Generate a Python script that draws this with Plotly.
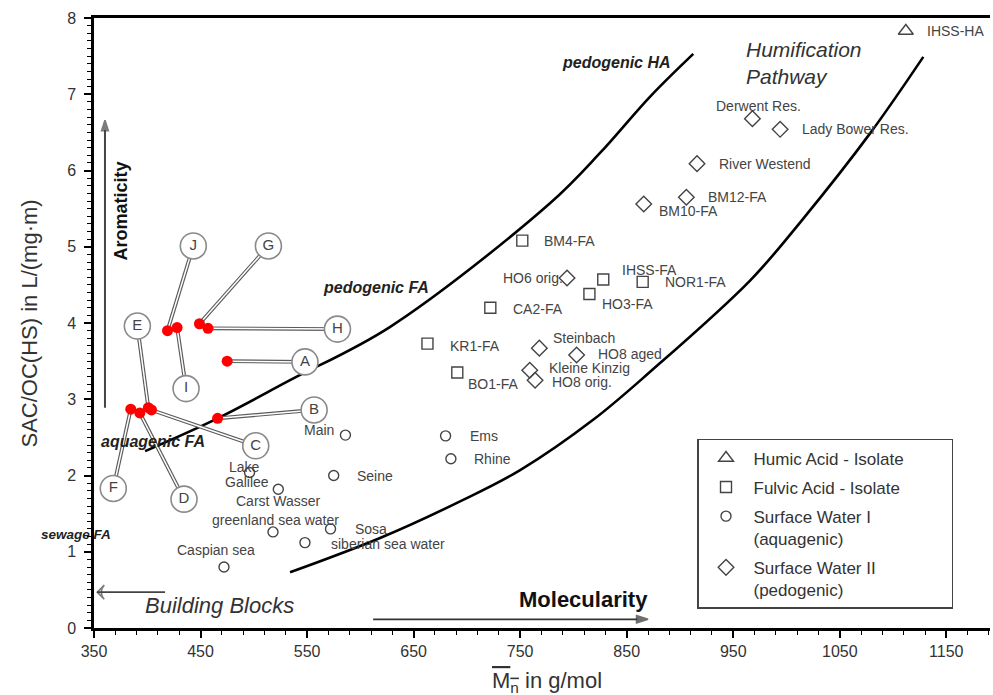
import plotly.graph_objects as go

# ---------------- data ----------------
ha_names = ["IHSS-HA"]
ha_x = [1112]
ha_y = [7.83]

fa_names = ["BM4-FA", "IHSS-FA", "NOR1-FA", "HO3-FA", "CA2-FA", "KR1-FA", "BO1-FA"]
fa_x = [752, 828, 865, 815, 722, 663, 691]
fa_y = [5.08, 4.57, 4.54, 4.38, 4.20, 3.73, 3.35]

sw1_names = ["Ems", "Rhine", "Main", "Lake<br>Galilee", "Seine", "Carst Wasser",
             "greenland sea water", "Sosa", "siberian sea water", "Caspian sea"]
sw1_x = [680, 685, 586, 496, 575, 523, 518, 572, 548, 472]
sw1_y = [2.52, 2.22, 2.53, 2.04, 2.00, 1.82, 1.26, 1.30, 1.12, 0.80]

sw2_names = ["Derwent Res.", "Lady Bower Res.", "River Westend", "BM12-FA", "BM10-FA",
             "HO6 orig.", "Steinbach", "HO8 aged", "Kleine Kinzig", "HO8 orig."]
sw2_x = [968, 994, 916, 906, 866, 794, 768, 803, 759, 764]
sw2_y = [6.68, 6.54, 6.09, 5.65, 5.56, 4.59, 3.67, 3.58, 3.38, 3.25]

sample_ids = ["A", "B", "C", "D", "E", "F", "G", "H", "I", "J"]
sample_x = [475, 466, 404, 393, 401, 384.5, 449, 457, 428, 419]
sample_y = [3.50, 2.75, 2.86, 2.82, 2.89, 2.87, 3.99, 3.93, 3.94, 3.90]

# boundary curves
pedo_x = [398, 466, 534, 628, 778, 825, 872, 912.5]
pedo_y = [2.32, 2.75, 3.25, 3.95, 5.57, 6.23, 6.97, 7.53]
aqua_x = [534, 618.5, 696.5, 750, 818.5, 872, 966, 1014.6, 1078.6, 1128.4]
aqua_y = [0.73, 1.18, 1.68, 2.07, 2.73, 3.36, 4.56, 5.35, 6.49, 7.49]

x_ticks = [350, 450, 550, 650, 750, 850, 950, 1050, 1150]
y_ticks = [0, 1, 2, 3, 4, 5, 6, 7, 8]

# ---------------- layout helpers (positions / styles) ----------------
callout_pos = {  # letter bubble positions in data units
    "A": (548, 3.49), "B": (556.6, 2.86), "C": (501.8, 2.39), "D": (434.5, 1.69),
    "E": (390.7, 3.96), "F": (368.1, 1.83), "G": (513.7, 5.01), "H": (578.5, 3.92),
    "I": (436.4, 3.14), "J": (443.2, 5.01),
}
label_off = {  # per text line: xshift, yshift (px), xanchor
    "IHSS-HA": [(19, 0, "left")], "BM4-FA": [(20, 0, "left")], "IHSS-FA": [(17, 10, "left")],
    "NOR1-FA": [(20, 0, "left")], "HO3-FA": [(11, -10, "left")], "CA2-FA": [(21, -1, "left")],
    "KR1-FA": [(21, -2, "left")], "BO1-FA": [(9, -11, "left")],
    "Ems": [(22, 0, "left")], "Rhine": [(21, 0, "left")], "Main": [(-9, 5, "right")],
    "Lake<br>Galilee": [(-5, 5, "center"), (-3, -10, "center")], "Seine": [(21, 0, "left")],
    "Carst Wasser": [(0, -12, "center")], "greenland sea water": [(3, 12, "center")],
    "Sosa": [(22, 0, "left")], "siberian sea water": [(24, -1, "left")],
    "Caspian sea": [(-8, 17, "center")],
    "Derwent Res.": [(6, 13, "center")], "Lady Bower Res.": [(20, 0, "left")],
    "River Westend": [(20, 0, "left")], "BM12-FA": [(20, 0, "left")],
    "BM10-FA": [(13, -7, "left")], "HO6 orig.": [(-2, 0, "right")],
    "Steinbach": [(12, 10, "left")], "HO8 aged": [(19, 1, "left")],
    "Kleine Kinzig": [(17, 2, "left")], "HO8 orig.": [(15, -2, "left")],
}

FONT = "Liberation Sans, Arial, sans-serif"
MK = "#444444"

fig = go.Figure()

# boundary curves
for cx, cy in [(pedo_x, pedo_y), (aqua_x, aqua_y)]:
    fig.add_trace(go.Scatter(x=cx, y=cy, mode="lines", showlegend=False, hoverinfo="skip",
                             line=dict(color="black", width=2.6, shape="spline", smoothing=1)))

# leader lines (double line look)
lx, ly = [], []
for sid, sx, sy in zip(sample_ids, sample_x, sample_y):
    px, py = callout_pos[sid]
    lx += [sx, px, None]
    ly += [sy, py, None]
fig.add_trace(go.Scatter(x=lx, y=ly, mode="lines", showlegend=False, hoverinfo="skip",
                         line=dict(color="#5a5a5a", width=3.8)))
fig.add_trace(go.Scatter(x=lx, y=ly, mode="lines", showlegend=False, hoverinfo="skip",
                         line=dict(color="white", width=1.5)))

# letter bubbles
fig.add_trace(go.Scatter(
    x=[callout_pos[s][0] for s in sample_ids], y=[callout_pos[s][1] for s in sample_ids],
    mode="markers+text", text=sample_ids, textposition="middle center",
    textfont=dict(family=FONT, size=15, color="#444444"),
    marker=dict(symbol="circle", size=26, color="white", line=dict(color="#8a8a8a", width=1.6)),
    showlegend=False, hoverinfo="skip"))

# red samples
fig.add_trace(go.Scatter(x=sample_x, y=sample_y, mode="markers", showlegend=False,
                         marker=dict(symbol="circle", size=11, color="#ff0000"),
                         hoverinfo="skip"))

# direction arrows (line + arrow marker at the head)
arrows = [
    ([360.3, 360.3], [2.89, 6.66], "arrow", 11, "#444444", 2.0),      # Aromaticity
    ([416.7, 353.0], [0.47, 0.47], "arrow-wide-open", 10, "#444444", 1.6),  # Building Blocks
    ([612, 870], [0.114, 0.114], "arrow", 12, "#333333", 1.8),       # Molecularity
]
for ax_, ay_, sym, sz, col, w in arrows:
    fig.add_trace(go.Scatter(x=ax_, y=ay_, mode="lines+markers", showlegend=False, hoverinfo="skip",
                             line=dict(color=col, width=w),
                             marker=dict(symbol=["circle", sym], size=[0, sz], angleref="previous",
                                         color=col, line=dict(color=col, width=1.6))))

# data series
pad = "\u00a0" * 9
series = [
    ("Humic Acid - Isolate" + pad, ha_x, ha_y, "triangle-up-open", 13),
    ("Fulvic Acid - Isolate", fa_x, fa_y, "square-open", 11),
    ("Surface Water I<br>(aquagenic)", sw1_x, sw1_y, "circle-open", 10),
    ("Surface Water II<br>(pedogenic)", sw2_x, sw2_y, "diamond-open", 12),
]
for i, (name, sx, sy, sym, sz) in enumerate(series):
    fig.add_trace(go.Scatter(x=sx, y=sy, mode="markers", name=name, legendgroup=str(i),
                             marker=dict(symbol=sym, size=sz, color=MK, line=dict(width=1.4, color=MK))))

annotations = []
for names, xs, ys in [(ha_names, ha_x, ha_y), (fa_names, fa_x, fa_y),
                      (sw1_names, sw1_x, sw1_y), (sw2_names, sw2_x, sw2_y)]:
    for n, x, y in zip(names, xs, ys):
        for line_txt, (dx, dy, anc) in zip(n.split("<br>"), label_off[n]):
            annotations.append(dict(x=x, y=y, xref="x", yref="y", text=line_txt, showarrow=False,
                                    xanchor=anc, yanchor="middle", xshift=dx, yshift=dy,
                                    font=dict(family=FONT, size=14, color="#444444")))

def txt(text, x, y, size, xanchor="left", xref="x", yref="y", angle=0, color="#222222"):
    annotations.append(dict(x=x, y=y, xref=xref, yref=yref, text=text, showarrow=False,
                            xanchor=xanchor, yanchor="middle", textangle=angle, align="left",
                            font=dict(family=FONT, size=size, color=color)))

txt("<b><i>pedogenic HA</i></b>", 893, 7.41, 16, xanchor="right")
txt("<b><i>pedogenic FA</i></b>", 563, 4.47, 16)
txt("<b><i>aquagenic FA</i></b>", 355, 2.44, 16)
txt("<b><i>sewage FA</i></b>", -0.061, 1.23, 13.5, xref="paper")
txt("<i>Humification<br>Pathway</i>", 960, 7.41, 21, color="#333333")
txt("<i>Building Blocks</i>", 468, 0.30, 22, xanchor="center", color="#333333")
txt("<b>Molecularity</b>", 809, 0.37, 22, xanchor="center", color="#111111")
txt("<b>Aromaticity</b>", 375, 5.47, 18, xanchor="center", angle=-90, color="#111111")
txt("SAC/OC(HS) in L/(mg·m)", -0.072, 0.5, 22, xanchor="center", xref="paper", yref="paper",
    angle=-90, color="#333333")
txt('<span style="text-decoration:overline">M<sub>n</sub></span> in g/mol', 0.506, -0.089, 22,
    xanchor="center", xref="paper", yref="paper", color="#333333")

fig.update_layout(
    width=993, height=695,
    margin=dict(l=94, r=3, t=18, b=67),
    paper_bgcolor="white", plot_bgcolor="white",
    font=dict(family=FONT, color="#333333"),
    annotations=annotations,
    showlegend=True,
    legend=dict(x=0.673, y=0.31, xanchor="left", yanchor="top",
                bordercolor="#444444", borderwidth=1.5, bgcolor="white",
                font=dict(family=FONT, size=17, color="#333333"),
                valign="top", itemwidth=45, tracegroupgap=4),
)
fig.update_xaxes(range=[350, 1191], tickmode="array", tickvals=x_ticks,
                 ticktext=[str(v) for v in x_ticks],
                 ticks="outside", ticklen=7, tickwidth=1.5, tickcolor="black",
                 showline=True, linewidth=2.5, linecolor="black", mirror=True,
                 showgrid=False, zeroline=False,
                 tickfont=dict(family=FONT, size=16, color="#333333"),
                 minor=dict(tick0=350, dtick=20, ticks="outside", ticklen=4, tickwidth=1.3,
                            tickcolor="black", showgrid=False))
fig.update_yaxes(range=[0, 8], tickmode="array", tickvals=y_ticks,
                 ticktext=[str(v) for v in y_ticks],
                 ticks="outside", ticklen=7, tickwidth=1.5, tickcolor="black",
                 showline=True, linewidth=2.5, linecolor="black",
                 showgrid=False, zeroline=False, ticklabelstandoff=5,
                 tickfont=dict(family=FONT, size=16, color="#333333"),
                 minor=dict(tick0=0, dtick=0.1, ticks="outside", ticklen=4, tickwidth=1.2,
                            tickcolor="black", showgrid=False))

fig.write_html("out.html", config={"displayModeBar": False},
               post_script="document.body.style.margin='0px';")
